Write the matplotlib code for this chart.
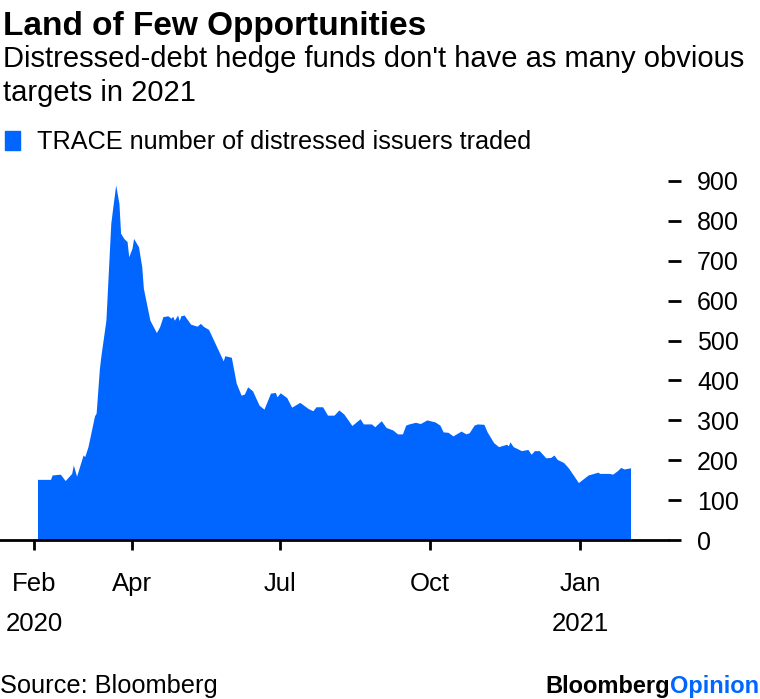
import pandas as pd
import matplotlib
matplotlib.use('Agg')
import matplotlib.pyplot as plt

# days after 2020-02-01, number of distressed issuers traded
day = [2, 10, 11, 16, 19, 23, 24, 26, 30, 31,
       33, 37, 38, 40, 41, 44, 47, 48, 50, 52,
       53, 55, 57, 58, 60, 61, 64, 66, 67, 71,
       75, 77, 79, 82, 84, 85, 86, 88, 89, 90,
       92, 96, 100, 102, 104, 107, 111, 116, 117, 121,
       124, 127, 129, 131, 134, 138, 141, 145, 148, 149,
       151, 155, 158, 163,
       168, 171, 173, 177, 180, 184, 187, 190, 195, 200,
       202, 207, 209, 213, 216, 220, 223, 226, 228, 230,
       234, 237, 241, 246, 249, 251, 254, 257, 262, 265,
       267, 270, 272, 276, 278, 282, 285, 290, 291, 292,
       294, 299, 303, 305, 307, 310, 314, 317, 319, 321,
       325, 328, 334, 340, 346, 347, 353, 355, 358, 360, 362, 366]
issuers = [152, 152, 163, 165, 149, 167, 188, 160, 213, 209,
           234, 311, 318, 430, 464, 551, 794, 827, 890, 844,
           769, 756, 748, 710, 731, 756, 735, 685, 631, 551,
           520, 535, 560, 562, 556, 561, 551, 564, 550, 562,
           564, 541, 536, 543, 535, 528, 493, 449, 462, 458,
           393, 363, 366, 384, 374, 338, 328, 368, 370, 359,
           369, 357, 333, 345,
           330, 324, 334, 334, 313, 313, 326, 316, 287, 304,
           291, 291, 284, 299, 282, 276, 266, 266, 288, 291,
           295, 292, 301, 296, 288, 271, 270, 261, 273, 266,
           269, 288, 291, 290, 271, 244, 234, 240, 236, 246,
           234, 224, 227, 215, 224, 224, 206, 207, 213, 202,
           194, 180, 144, 163, 170, 167, 167, 165, 174, 182, 178, 181]

tick_dates = ['2020-02-01', '2020-04-01', '2020-07-01', '2020-10-01', '2021-01-01']
tick_labels = ['Feb\n2020', 'Apr', 'Jul', 'Oct', 'Jan\n2021']
y_ticks = [0, 100, 200, 300, 400, 500, 600, 700, 800, 900]

blue = '#0066ff'
plt.rcParams['font.family'] = ['Liberation Sans', 'DejaVu Sans']

start = pd.Timestamp('2020-02-01')
dates = start + pd.to_timedelta(day, unit='D')

fig = plt.figure(figsize=(7.6, 6.99), dpi=100)
ax = fig.add_axes([0, 1 - 540 / 699, 668 / 760, 369 / 699])

ax.fill_between(dates, issuers, 0, color=blue, linewidth=0)

ax.set_xlim(start - pd.Timedelta(days=21), start + pd.Timedelta(days=389))
ax.set_ylim(0, 925)

for s in ['top', 'left', 'right']:
    ax.spines[s].set_visible(False)
ax.spines['bottom'].set_linewidth(2)
ax.spines['bottom'].set_color('black')

ax.set_xticks(pd.to_datetime(tick_dates))
ax.set_xticklabels(tick_labels, fontsize=18.5, linespacing=1.85, va='top')
ax.tick_params(axis='x', length=7, width=2, pad=16, color='black')

ax.yaxis.tick_right()
ax.set_yticks(y_ticks)
ax.set_yticklabels([str(v) for v in y_ticks], fontsize=18)
ax.tick_params(axis='y', length=9, width=2, pad=12, color='black')

fig.text(0.004, 1 - 35 / 699, 'Land of Few Opportunities', fontsize=24,
         fontweight='bold', va='baseline')
fig.text(0.004, 1 - 67 / 699,
         "Distressed-debt hedge funds don't have as many obvious",
         fontsize=21, va='baseline')
fig.text(0.004, 1 - 101 / 699, 'targets in 2021', fontsize=21, va='baseline')
fig.patches.append(plt.Rectangle((5 / 760, 1 - 150 / 699), 15 / 760, 19 / 699,
                                 transform=fig.transFigure, color=blue))
fig.text(37 / 760, 1 - 149 / 699, 'TRACE number of distressed issuers traded',
         fontsize=18.2, va='baseline')

fig.text(0.0, 1 - 693 / 699, 'Source: Bloomberg', fontsize=18.3, va='baseline')
op = fig.text(0.999, 1 - 693 / 699, 'Opinion', fontsize=17, fontweight='bold',
              color=blue, ha='right', va='baseline')
fig.canvas.draw()
bb = op.get_window_extent().transformed(fig.transFigure.inverted())
fig.text(bb.x0, 1 - 693 / 699, 'Bloomberg', fontsize=17, fontweight='bold',
         color='black', ha='right', va='baseline')

fig.savefig('out.png', dpi=100)
